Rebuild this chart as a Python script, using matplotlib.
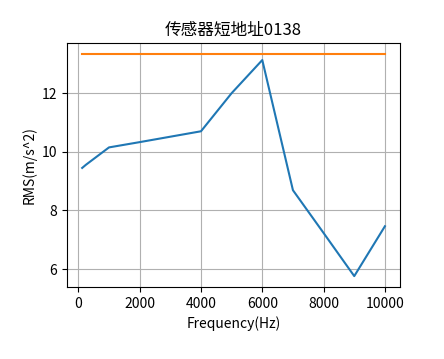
import matplotlib
matplotlib.use("Agg")
import matplotlib.pyplot as plt

# Frequency points (Hz) and RMS values
freqs = [125, 250, 1000, 2000, 4000, 5000, 6000, 7000, 8000, 9000, 10000]
rms = [9.45, 9.56, 10.15, 10.33, 10.70, 12.0, 13.13, 8.69, 7.23, 5.76, 7.46]

# Threshold line
limit_x = [125, 10000]
limit_y = [13.33, 13.33]

plt.rcParams['font.family'] = ['Noto Sans CJK SC', 'DejaVu Sans']
plt.rcParams['axes.unicode_minus'] = False

fig = plt.figure(figsize=(4.44, 3.59), dpi=100)
ax = fig.add_subplot(111)
fig.subplots_adjust(left=0.151, right=0.901, top=0.88, bottom=0.2)

ax.plot(freqs, rms)
ax.plot(limit_x, limit_y)

ax.set_title("传感器短地址0138")
ax.set_xlabel("Frequency(Hz)")
ax.set_ylabel("RMS(m/s^2)")
ax.grid(True)

fig.savefig("out.png", dpi=100)
